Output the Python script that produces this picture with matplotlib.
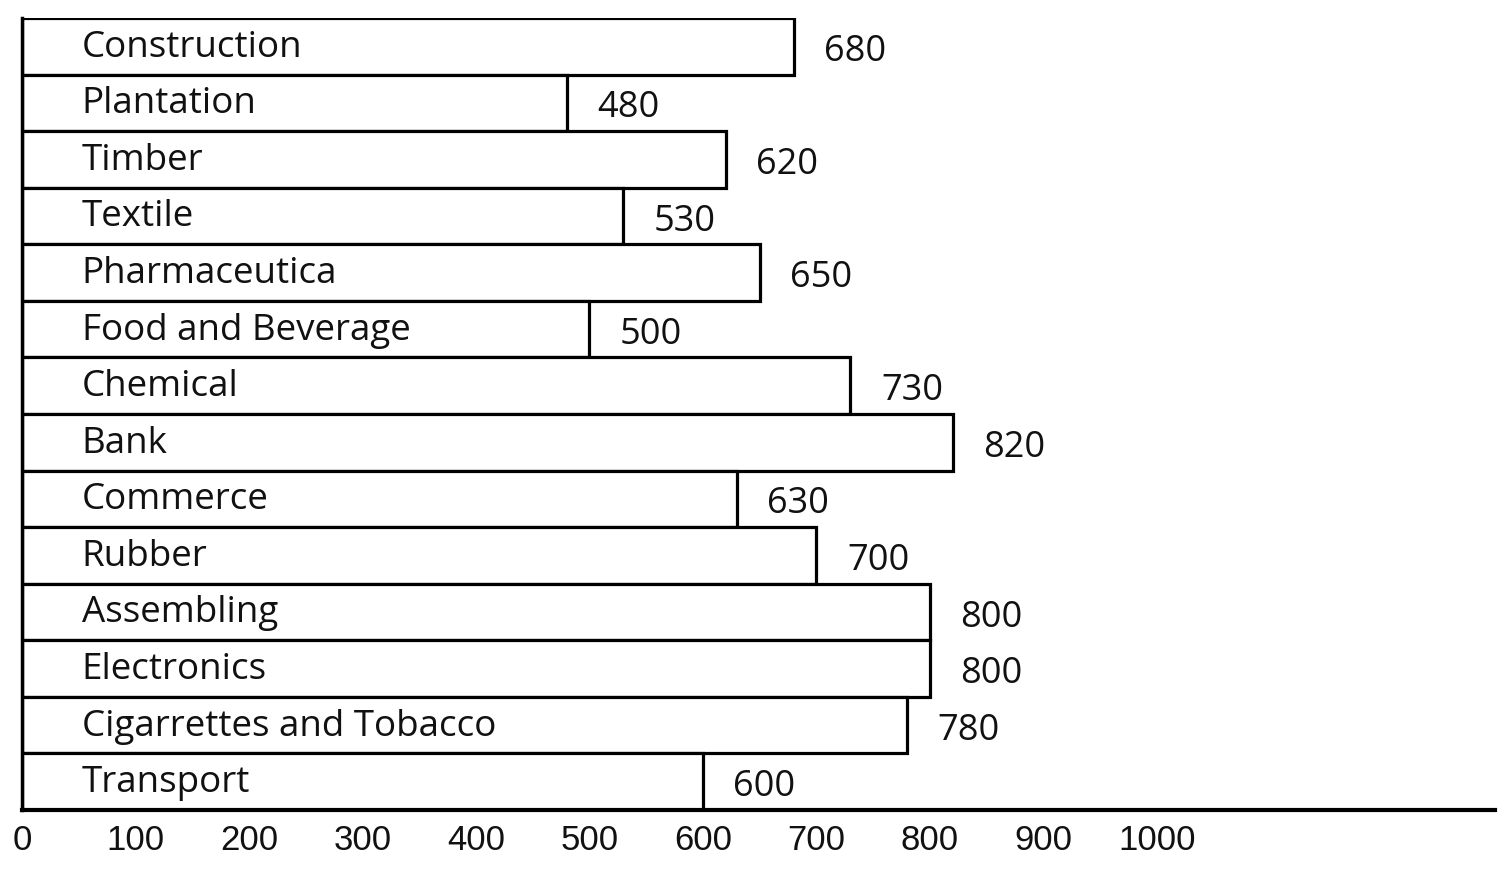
import matplotlib
matplotlib.use("Agg")
import matplotlib.pyplot as plt

categories = ["Construction", "Plantation", "Timber", "Textile", "Pharmaceutica",
              "Food and Beverage", "Chemical", "Bank", "Commerce", "Rubber",
              "Assembling", "Electronics", "Cigarrettes and Tobacco", "Transport"]
values = [680, 480, 620, 530, 650, 500, 730, 820, 630, 700, 800, 800, 780, 600]
tick_values = [0, 100, 200, 300, 400, 500, 600, 700, 800, 900, 1000]

plt.rcParams['font.family'] = ['Open Sans', 'DejaVu Sans']

fig = plt.figure(figsize=(14.98, 8.72), dpi=100)
ax = fig.add_axes([22 / 1498, 62 / 872, 1473 / 1498, 792 / 872])

y = list(range(len(categories)))
ax.barh(y, values, height=1.0, color="white", edgecolor="black", linewidth=2.3, zorder=2)

for yi, cat, v in zip(y, categories, values):
    ax.annotate(cat, xy=(0, yi), xytext=(43, -1), textcoords="offset points",
                ha="left", va="center", fontsize=26.5, color="#111111", zorder=3)
    ax.annotate(str(v), xy=(v, yi), xytext=(22, -4), textcoords="offset points",
                ha="left", va="center", fontsize=26, color="#111111", zorder=3)

ax.set_ylim(len(categories) - 0.5, -0.5)
ax.set_xlim(0, 1298)
ax.set_yticks([])
ax.set_xticks(tick_values)
ax.set_xticklabels([str(t) for t in tick_values], fontsize=25, color="#111111",
                   family=['Liberation Sans', 'DejaVu Sans'])
ax.tick_params(axis="x", length=0, pad=10)

for s in ["top", "right"]:
    ax.spines[s].set_visible(False)
ax.spines["left"].set_linewidth(2.5)
ax.spines["bottom"].set_linewidth(3)

fig.savefig("out.png", dpi=100, facecolor="white")
